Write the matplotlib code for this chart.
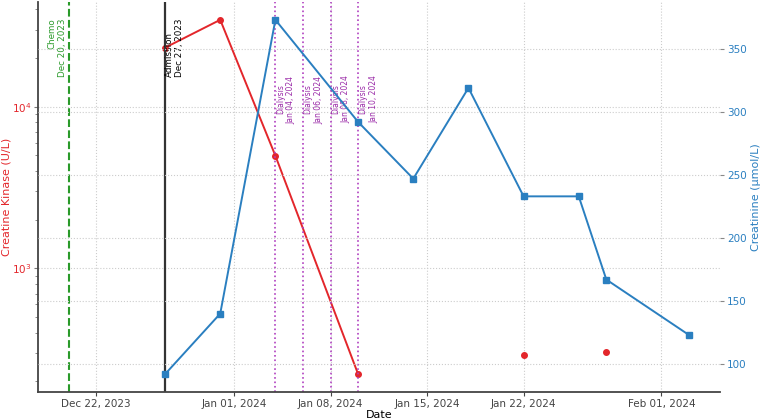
import numpy as np
import pandas as pd
import matplotlib
matplotlib.use("Agg")
import matplotlib.pyplot as plt
import matplotlib.dates as mdates

# lab values
dates = pd.to_datetime(["2023-12-27", "2023-12-31", "2024-01-04", "2024-01-10",
                        "2024-01-14", "2024-01-18", "2024-01-22", "2024-01-26",
                        "2024-01-28", "2024-02-03"])
ck = [23200, 34500, 4980, 222, np.nan, np.nan, 290, np.nan, 306, np.nan]
creatinine = [92, 140, 373, 292, 247, 319, 233, 233, 167, 123]

chemo_date = pd.Timestamp("2023-12-20")
admission_date = pd.Timestamp("2023-12-27")
dialysis_dates = pd.to_datetime(["2024-01-04", "2024-01-06", "2024-01-08", "2024-01-10"])

red = "#e3262b"
blue = "#2a7fc0"
purple = "#b040c0"
spine_col = "#444444"

fig, ax1 = plt.subplots(figsize=(7.62, 4.2), dpi=100)
fig.subplots_adjust(left=0.05, right=0.945, top=0.995, bottom=0.067)

ax1.plot(dates, ck, color=red, marker="o", markersize=4, linewidth=1.4)
ax1.set_yscale("log")
ax1.set_ylabel("Creatine Kinase (U/L)", color=red, fontsize=8, labelpad=0)
ax1.tick_params(axis="y", which="both", labelcolor=red, colors="#777777", labelsize=7.5, pad=2)
ax1.tick_params(axis="y", which="major", length=3)
ax1.tick_params(axis="y", which="minor", length=2)
ax1.tick_params(axis="x", labelsize=7.5, colors=spine_col, pad=2, length=3)
ax1.grid(True, which="major", linestyle=":", color="#cccccc", linewidth=0.8)

ax2 = ax1.twinx()
ax2.plot(dates, creatinine, color=blue, marker="s", markersize=4, linewidth=1.4)
ax2.set_ylabel("Creatinine (µmol/L)", color=blue, fontsize=8, labelpad=3)
ax2.tick_params(axis="y", labelcolor=blue, colors="#888888", labelsize=7.5, pad=2, length=3)
ax2.grid(True, linestyle=":", color="#cccccc", linewidth=0.8)

for a in (ax1, ax2):
    a.spines["top"].set_visible(False)
    a.spines["right"].set_visible(False)
ax1.spines["left"].set_color(spine_col)
ax1.spines["bottom"].set_color(spine_col)
ax1.spines["left"].set_linewidth(1.3)
ax1.spines["bottom"].set_linewidth(1.3)
ax2.spines["left"].set_visible(False)
ax2.spines["bottom"].set_visible(False)

# event lines
trans = ax1.get_xaxis_transform()
ax1.axvline(chemo_date, color="#2a9a2a", linestyle="--", linewidth=1.5)
ax1.text(chemo_date - pd.Timedelta(hours=3), 0.958, "Chemo\nDec 20, 2023", transform=trans,
         rotation=90, ha="right", va="top", multialignment="right",
         color="#2a9a2a", fontsize=6.3)

ax1.axvline(admission_date, color="#333333", linestyle="-", linewidth=1.6)
ax1.text(admission_date, 0.958, "Admission\nDec 27, 2023", transform=trans,
         rotation=90, ha="left", va="top", multialignment="left",
         color="black", fontsize=6.3)

for d in dialysis_dates:
    ax1.axvline(d, color=purple, linestyle=":", linewidth=1.2)
    ax1.text(d + pd.Timedelta(hours=1), 0.75, "Dialysis\n" + d.strftime("%b %d, %Y"),
             transform=trans, rotation=90, ha="left", va="center",
             multialignment="center", color="#9a2aa8", fontsize=5.5)

ax1.set_xlim(pd.Timestamp("2023-12-17 19:00"), pd.Timestamp("2024-02-05 06:00"))
ax1.xaxis.set_major_locator(mdates.DayLocator(bymonthday=[1, 8, 15, 22]))
ax1.xaxis.set_major_formatter(mdates.DateFormatter("%b %d, %Y"))
ax1.set_xlabel("Date", fontsize=8, labelpad=1)

fig.savefig("out.png", dpi=100)
